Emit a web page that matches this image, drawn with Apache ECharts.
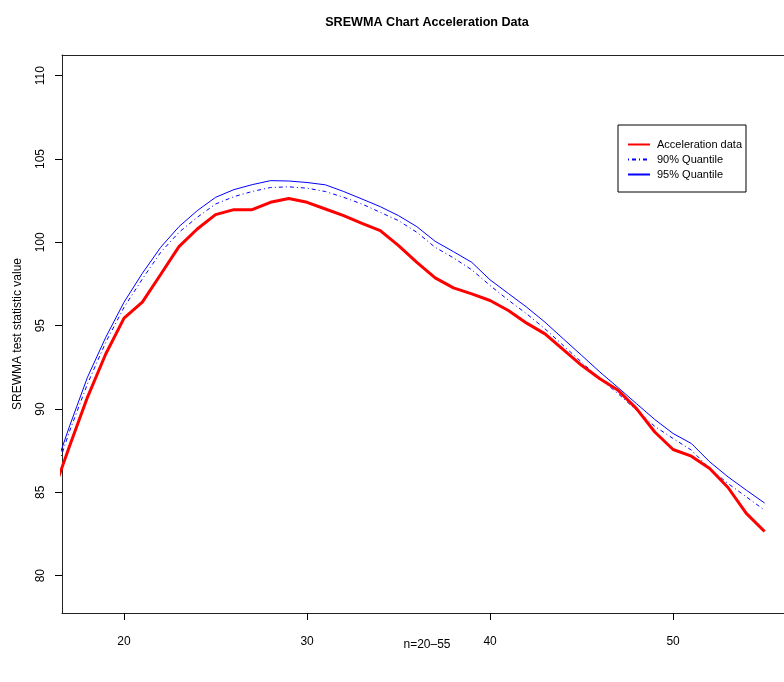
<!DOCTYPE html>
<html>
<head>
<meta charset="utf-8">
<script src="https://cdn.jsdelivr.net/npm/echarts@6/dist/echarts.min.js"></script>
<style>html,body{margin:0;padding:0;background:#fff;}#c{width:784px;height:682px;}</style>
</head>
<body>
<div id="c"></div>
<script>
const nValues = [16,17,18,19,20,21,22,23,24,25,26,27,28,29,30,31,32,33,34,35,36,37,38,39,40,41,42,43,44,45,46,47,48,49,50,51,52,53,54,55];
const accelData = [84.6,87.7,90.7,93.3,95.45,96.41,98.07,99.74,100.80,101.66,101.96,101.96,102.40,102.63,102.40,102.0,101.6,101.14,100.70,99.80,98.80,97.87,97.27,96.91,96.51,95.91,95.15,94.51,93.56,92.62,91.82,91.12,90.02,88.62,87.57,87.17,86.43,85.29,83.74,82.65];
const q90 = [85.3,88.6,91.5,94.0,96.1,97.8,99.4,100.6,101.5,102.30,102.74,103.05,103.29,103.33,103.25,103.05,102.70,102.30,101.80,101.30,100.60,99.70,99.07,98.35,97.41,96.53,95.71,94.81,93.81,92.81,91.82,90.92,89.92,88.96,88.23,87.53,86.43,85.53,84.73,83.93];
const q95 = [85.7,88.9,91.9,94.3,96.41,98.14,99.70,100.94,101.90,102.70,103.16,103.46,103.70,103.68,103.59,103.45,103.05,102.60,102.14,101.60,100.94,100.06,99.44,98.80,97.75,96.93,96.11,95.21,94.21,93.22,92.22,91.28,90.32,89.37,88.53,87.93,86.83,85.93,85.13,84.36];
const xTicks = [20,30,40,50];
const yTicks = [80,85,90,95,100,105,110];
const seriesNames = ['Acceleration data','90% Quantile','95% Quantile'];
const titleText = 'SREWMA Chart Acceleration Data';
const xLabel = 'n=20\u201355';
const yLabel = 'SREWMA test statistic value';

const pair = (ys) => nValues.map((x, i) => [x, ys[i]]);
const FONT = '"Liberation Sans", Arial, Helvetica, sans-serif';
const X_MIN = 16.61, X_MAX = 56.06;
const AXIS_LINE = {show: true, lineStyle: {color: '#222', width: 1}};

const chart = echarts.init(document.getElementById('c'), null, {renderer: 'canvas'});
chart.setOption({
  animation: false,
  backgroundColor: '#fff',
  title: {
    text: titleText,
    left: 422, top: 11, textAlign: 'center',
    textStyle: {fontFamily: FONT, fontSize: 12.6, fontWeight: 'bold', color: '#000'}
  },
  legend: {
    orient: 'vertical',
    left: 618, top: 125,
    data: seriesNames,
    itemWidth: 22, itemHeight: 12, itemGap: 4,
    padding: [14, 4, 12, 9],
    borderColor: '#000', borderWidth: 1,
    itemStyle: {opacity: 0},
    textStyle: {fontFamily: FONT, fontSize: 11, color: '#000', padding: [0,0,0,2]}
  },
  grid: {
    left: 62, top: 55, right: 0, bottom: 69,
    show: false, containLabel: false
  },
  xAxis: [{
    type: 'value', min: X_MIN, max: X_MAX,
    axisLine: AXIS_LINE,
    splitLine: {show: false},
    axisTick: {show: true, length: 7, lineStyle: {color: '#000'}, customValues: xTicks},
    axisLabel: {customValues: xTicks, margin: 23, fontFamily: FONT, fontSize: 12, color: '#000'}
  }, {
    type: 'value', position: 'top', min: X_MIN, max: X_MAX,
    axisLine: AXIS_LINE,
    splitLine: {show: false},
    axisTick: {show: false},
    axisLabel: {show: false}
  }],
  yAxis: {
    type: 'value', min: 77.76, max: 111.24,
    axisLine: AXIS_LINE,
    splitLine: {show: false},
    axisTick: {show: true, length: 7, lineStyle: {color: '#000'}, customValues: yTicks},
    axisLabel: {customValues: yTicks, rotate: 90, margin: 15, fontFamily: FONT, fontSize: 12, color: '#000'}
  },
  graphic: [
    {type: 'text', style: {text: xLabel, x: 427, y: 645, fill: '#000', font: '12px ' + FONT, textAlign: 'center', textVerticalAlign: 'middle'}},
    {type: 'text', style: {text: yLabel, fill: '#000', font: '12px ' + FONT, textAlign: 'center', textVerticalAlign: 'middle'}, x: 18, y: 334, rotation: Math.PI/2}
  ],
  series: [
    {name: seriesNames[0], type: 'line', data: pair(accelData), symbol: 'none', lineStyle: {color: '#ff0000', width: 3}, itemStyle: {color: '#ff0000'}, z: 3},
    {name: seriesNames[1], type: 'line', data: pair(q90), symbol: 'none', lineStyle: {color: '#0000ff', width: 1, type: [1,3,4,3]}, itemStyle: {color: '#0000ff'}, z: 2},
    {name: seriesNames[2], type: 'line', data: pair(q95), symbol: 'none', lineStyle: {color: '#0000ff', width: 1}, itemStyle: {color: '#0000ff'}, z: 2}
  ]
});
</script>
</body>
</html>
